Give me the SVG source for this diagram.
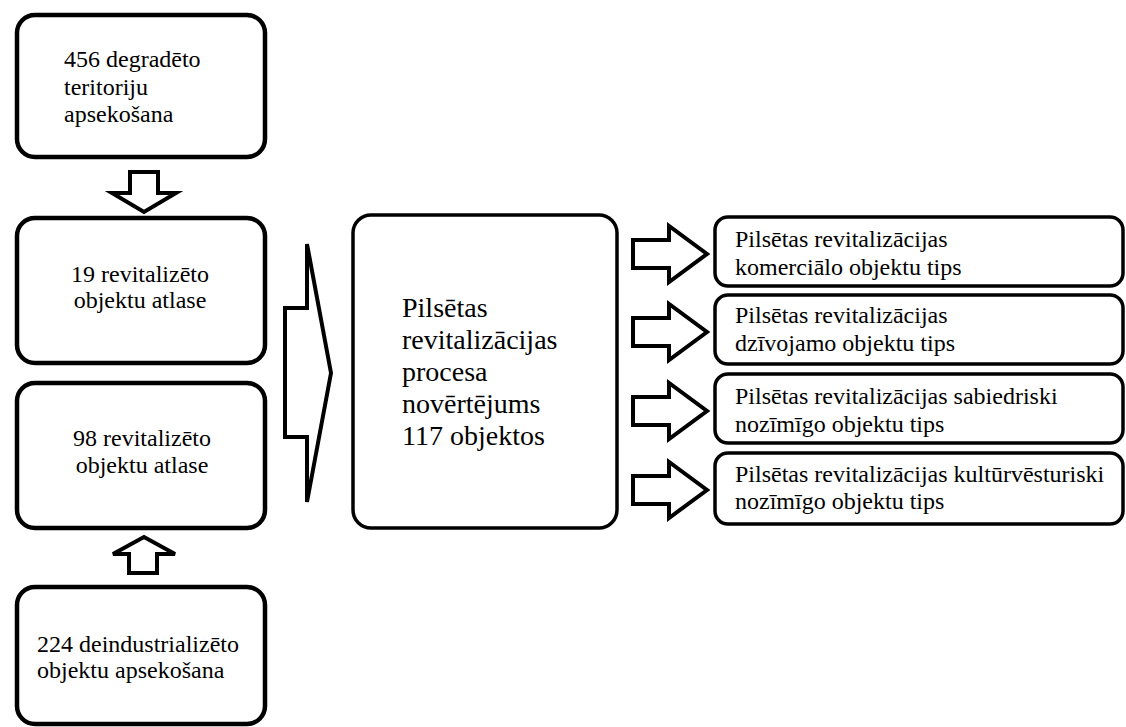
<svg xmlns="http://www.w3.org/2000/svg" width="1126" height="727" viewBox="0 0 1126 727" font-family="'Liberation Serif', 'Times New Roman', serif">
<style>
.lbox{fill:#fff;stroke:#000;stroke-width:4.5}
.cbox{fill:#fff;stroke:#000;stroke-width:3.5}
.rbox{fill:#fff;stroke:#000;stroke-width:3.5}
.arr{fill:#fff;stroke:#000;stroke-width:4;stroke-linejoin:miter}
text{font-family:'Liberation Serif','Times New Roman',serif;fill:#000}
.ls{font-size:24px}
.cs{font-size:28px}
.rs{font-size:24px}
</style>
<rect width="1126" height="727" fill="#fff"/>
<g id="connectors">
<polygon class="arr" points="130,172 158,172 158,193 176,193 144,212 112,193 130,193"/>
<polygon class="arr" points="129,573 157,573 157,554 175,554 144,537 113,554 129,554"/>
<polygon class="arr" points="285,308 307,308 307,244 331,373 307,502 307,437 285,437"/>
<polygon class="arr" points="633,240 669,240 669,226 707,254 669,282 669,268 633,268"/>
<polygon class="arr" points="633,318 669,318 669,304 707,332 669,360 669,346 633,346"/>
<polygon class="arr" points="633,397 669,397 669,383 707,411 669,439 669,425 633,425"/>
<polygon class="arr" points="633,476 669,476 669,462 707,490 669,518 669,504 633,504"/>
</g>
<g id="n1">
<rect class="lbox" x="17" y="15" width="248" height="142" rx="18"/>
<text class="ls" x="64" y="67">456 degradēto</text>
<text class="ls" x="64" y="95">teritoriju</text>
<text class="ls" x="64" y="122">apsekošana</text>
</g>
<g id="n2">
<rect class="lbox" x="17" y="218" width="248" height="145" rx="18"/>
<text class="ls" x="140" y="282" text-anchor="middle">19 revitalizēto</text>
<text class="ls" x="140" y="308" text-anchor="middle">objektu atlase</text>
</g>
<g id="n3">
<rect class="lbox" x="17" y="383" width="248" height="145" rx="18"/>
<text class="ls" x="142" y="446" text-anchor="middle">98 revitalizēto</text>
<text class="ls" x="142" y="473" text-anchor="middle">objektu atlase</text>
</g>
<g id="n4">
<rect class="lbox" x="17" y="587" width="248" height="137" rx="18"/>
<text class="ls" x="37" y="652">224 deindustrializēto</text>
<text class="ls" x="37" y="678">objektu apsekošana</text>
</g>
<g id="center">
<rect class="cbox" x="353" y="215" width="264" height="313" rx="18"/>
<text class="cs" x="402" y="317">Pilsētas</text>
<text class="cs" x="402" y="349">revitalizācijas</text>
<text class="cs" x="402" y="381">procesa</text>
<text class="cs" x="402" y="413">novērtējums</text>
<text class="cs" x="402" y="445">117 objektos</text>
</g>
<g id="r1">
<rect class="rbox" x="715" y="217" width="408" height="69" rx="13"/>
<text class="rs" x="735" y="247">Pilsētas revitalizācijas</text>
<text class="rs" x="735" y="275">komerciālo objektu tips</text>
</g>
<g id="r2">
<rect class="rbox" x="715" y="295" width="408" height="69" rx="13"/>
<text class="rs" x="735" y="323">Pilsētas revitalizācijas</text>
<text class="rs" x="735" y="351">dzīvojamo objektu tips</text>
</g>
<g id="r3">
<rect class="rbox" x="715" y="374" width="408" height="69" rx="13"/>
<text class="rs" x="735" y="404">Pilsētas revitalizācijas sabiedriski</text>
<text class="rs" x="735" y="432">nozīmīgo objektu tips</text>
</g>
<g id="r4">
<rect class="rbox" x="715" y="453" width="408" height="71" rx="13"/>
<text class="rs" x="735" y="482">Pilsētas revitalizācijas kultūrvēsturiski</text>
<text class="rs" x="735" y="509">nozīmīgo objektu tips</text>
</g>
</svg>
